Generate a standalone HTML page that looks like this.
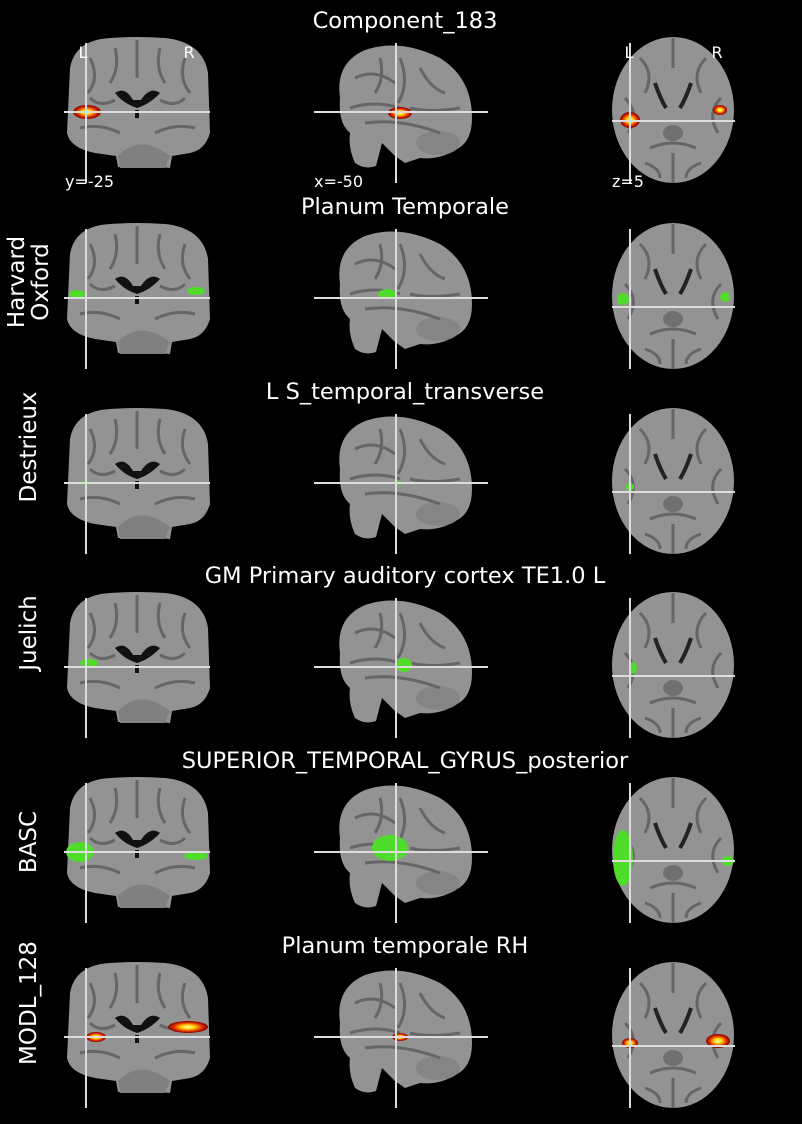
<!DOCTYPE html>
<html><head><meta charset="utf-8"><style>
html,body{margin:0;padding:0;background:#000;}
svg{display:block;}
text{font-family:"DejaVu Sans","Liberation Sans",sans-serif;fill:#fff;}
</style></head><body>
<svg id="fig" width="802" height="1124" viewBox="0 0 802 1124" xmlns="http://www.w3.org/2000/svg">
<defs>
<radialGradient id="fire" cx="50%" cy="50%" r="50%">
<stop offset="0" stop-color="#ffffc0"/><stop offset="0.35" stop-color="#ffd000"/><stop offset="0.7" stop-color="#e03000"/><stop offset="1" stop-color="#800000"/>
</radialGradient>
</defs>
</svg>
<script>
const titles=["Component_183","Planum Temporale","L S_temporal_transverse","GM Primary auditory cortex TE1.0 L","SUPERIOR_TEMPORAL_GYRUS_posterior","Planum temporale RH"];
const atlasLabels=["","Harvard\nOxford","Destrieux","Juelich","BASC","MODL_128"];
const rowTops=[38,224,409,593,778,963];
const blobKind=["fire","green","green","green","green","fire"];
// blobs: [view, relX, relY, rx, ry]
const blobs=[
 [[0,87,74,14,7],[1,400,75,12,6],[2,630,82,10,8],[2,720,72,7,5]],
 [[0,77,70,8,4],[0,196,67,9,4],[1,387,70,9,5],[2,623,75,6,6],[2,725,73,5,5]],
 [[0,85,74,5,2],[1,398,74,5,2],[2,630,78,4,4]],
 [[0,89,70,9,4],[1,404,72,8,7],[2,633,75,4,6]],
 [[0,80,74,14,10],[0,196,78,12,4],[1,390,70,18,13],[2,623,80,10,28],[2,728,83,6,5]],
 [[0,96,74,10,5],[0,188,64,20,6],[1,400,74,8,4],[2,630,80,8,5],[2,718,78,12,7]]
];
const svg=document.getElementById('fig');
const NS='http://www.w3.org/2000/svg';
function mk(tag,attrs,parent){const e=document.createElementNS(NS,tag);for(const k in attrs)e.setAttribute(k,attrs[k]);(parent||svg).appendChild(e);return e;}
function brainCoronal(g){
 mk('path',{d:'M70 30 Q75 2 110 0 Q137 -2 165 0 Q203 4 208 35 L210 95 Q205 112 190 115 L172 118 L170 130 L160 129 L150 129 L118 129 L116 118 L95 115 Q70 110 67 95 Z',fill:'#939393'},g);
 mk('path',{d:'M118 118 Q140 95 170 118 L165 130 L120 130 Z',fill:'#808080'},g);
 for(const d of ['M90 20 Q100 40 88 55','M115 10 Q120 30 110 45','M160 10 Q155 30 165 45','M185 20 Q178 40 190 55','M137 2 L137 40','M80 90 Q100 85 120 95','M155 95 Q175 85 195 90','M90 60 Q100 70 115 62','M160 62 Q175 70 185 60'])
  mk('path',{d,stroke:'#666','stroke-width':3,fill:'none'},g);
 mk('path',{d:'M115 55 Q125 48 133 62 L141 62 Q150 48 160 55 Q150 66 137 70 Q124 66 115 55Z',fill:'#111'},g);
 mk('rect',{x:135,y:72,width:4,height:8,fill:'#111'},g);
}
function brainSagittal(g){
 mk('path',{d:'M340 60 Q335 25 365 12 Q400 0 440 20 Q472 40 472 80 Q472 105 455 112 Q440 122 420 120 L405 125 L395 118 L382 105 L376 128 Q365 132 355 125 Q348 110 350 95 Q338 85 340 60Z',fill:'#939393'},g);
 mk('ellipse',{cx:438,cy:105,rx:22,ry:12,fill:'#858585'},g);
 for(const d of ['M355 40 Q375 30 395 45','M400 20 Q410 45 398 65','M420 30 Q430 50 445 55','M350 70 Q375 62 400 70','M365 85 Q400 80 440 95','M410 70 Q430 75 460 70','M380 20 Q385 40 375 55'])
  mk('path',{d,stroke:'#666','stroke-width':3,fill:'none'},g);
}
function brainAxial(g){
 mk('ellipse',{cx:673,cy:72,rx:61,ry:73,fill:'#939393'},g);
 for(const d of ['M673 0 L673 30','M640 20 Q655 35 645 55','M706 20 Q691 35 701 55','M625 60 Q640 75 628 95','M721 60 Q706 75 718 95','M650 110 Q673 100 696 110','M673 115 L673 145','M645 125 Q660 130 660 140','M701 125 Q686 130 686 140'])
  mk('path',{d,stroke:'#666','stroke-width':3,fill:'none'},g);
 mk('path',{d:'M655 45 Q660 60 666 70 M691 45 Q686 60 680 70',stroke:'#222','stroke-width':4,fill:'none'},g);
 mk('ellipse',{cx:673,cy:95,rx:10,ry:8,fill:'#707070'},g);
}
titles.forEach((t,r)=>{
 const oy=rowTops[r];
 const g=mk('g',{transform:`translate(0,${oy})`});
 
 
 const tt=mk('text',{x:405,y:-10,'text-anchor':'middle','font-size':22.5},g);
 tt.textContent=t;
 
 
 brainCoronal(g);brainSagittal(g);brainAxial(g);
 blobs[r].forEach(b=>{
  const e=mk('ellipse',{cx:b[1],cy:b[2],rx:b[3],ry:b[4],fill:blobKind[r]==='fire'?'url(#fire)':'#4fdc2a'},g);
  
  
 });
 const ls=[[86,5,86,145],[64,74,210,74],[396,5,396,145],[314,74,488,74],[630,5,630,145],[612,83,735,83]];
 ls.forEach(l=>{const e=mk('line',{x1:l[0],y1:l[1],x2:l[2],y2:l[3],stroke:'#ddd','stroke-width':2},g);
  
  });
 if(atlasLabels[r]){
  const lines=atlasLabels[r].split('\n');
  const tx=mk('text',{transform:`translate(${lines.length>1?28:28},${[0,58,38,40,64,40][r]}) rotate(-90)`,'text-anchor':'middle','font-size':23},g);
  
  
  lines.forEach((ln,i)=>{const s=mk('tspan',{x:0,dy:i?24:(lines.length>1?-4:8)},tx);s.textContent=ln;});
 }
});
[['L',83,58],['R',189,58],['L',629,58],['R',717,58],['y=-25',65,187],['x=-50',314,187],['z=5',612,187]].forEach(a=>{
 const e=mk('text',{x:a[1],y:a[2],'font-size':16,'text-anchor':a[0].length==1?'middle':'start'});
 e.textContent=a[0];
 
 
});
</script>
</body></html>
